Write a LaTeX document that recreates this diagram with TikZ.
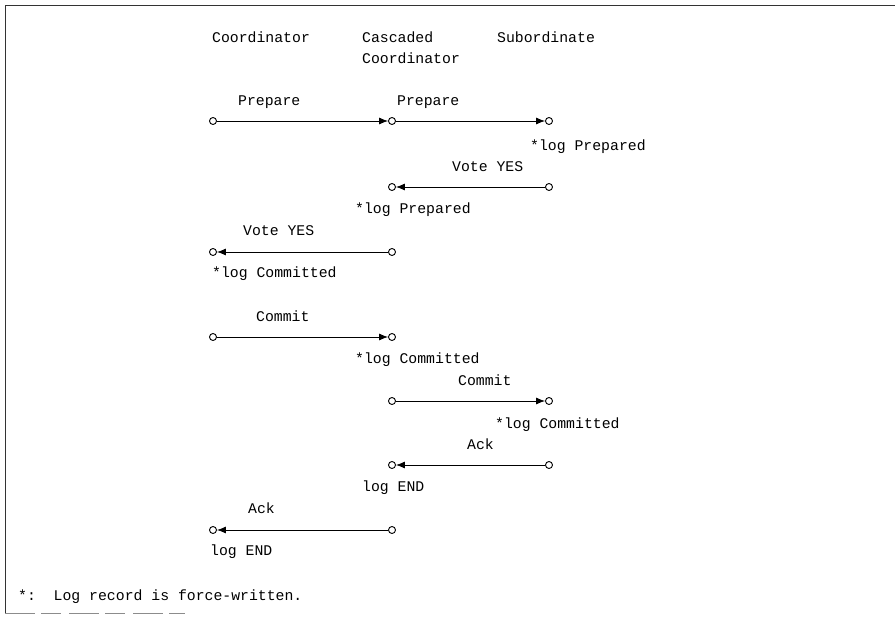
\documentclass[tikz,border=0pt]{standalone}
\usepackage{fontspec}
\setmonofont{Liberation Mono}
\usetikzlibrary{arrows.meta}
\begin{document}
\begin{tikzpicture}[x=1pt,y=-1pt,
  txt/.style={anchor=base west,inner sep=0pt,
    font=\ttfamily\fontsize{14.8}{16}\selectfont},
  endpt/.style={circle,draw,line width=0.9pt,minimum size=7pt,inner sep=0pt},
  msg/.style={line width=0.8pt,-{Latex[length=9pt,width=7pt]}},
  frame/.style={line width=1pt,black!80}]
\useasboundingbox (0,0) rectangle (895,621);
% frame
\draw[frame] (895,5) -- (5,5) -- (5,613);
\draw[frame,black!45,dash pattern=on 30pt off 6pt on 20pt off 8pt] (5,613) -- (185,613);

% column headings
\node[txt] (hA)  at (212,42) {Coordinator};
\node[txt] (hB1) at (362,42) {Cascaded};
\node[txt] (hB2) at (362,63) {Coordinator};
\node[txt] (hC)  at (497,42) {Subordinate};

% end points of the messages
\node[endpt] (p1a) at (213,121) {};
\node[endpt] (p1b) at (392,121) {};
\node[endpt] (p1c) at (549,121) {};
\node[endpt] (v1b) at (392,187) {};
\node[endpt] (v1c) at (549,187) {};
\node[endpt] (v2a) at (213,252) {};
\node[endpt] (v2b) at (392,252) {};
\node[endpt] (c1a) at (213,337) {};
\node[endpt] (c1b) at (392,337) {};
\node[endpt] (c2b) at (392,401) {};
\node[endpt] (c2c) at (549,401) {};
\node[endpt] (k1b) at (392,465) {};
\node[endpt] (k1c) at (549,465) {};
\node[endpt] (k2a) at (213,530) {};
\node[endpt] (k2b) at (392,530) {};

% messages
\draw[msg] (p1a) -- (p1b);
\draw[msg] (p1b) -- (p1c);
\draw[msg] (v1c) -- (v1b);
\draw[msg] (v2b) -- (v2a);
\draw[msg] (c1a) -- (c1b);
\draw[msg] (c2b) -- (c2c);
\draw[msg] (k1c) -- (k1b);
\draw[msg] (k2b) -- (k2a);

% message names and log actions
\node[txt] (lp1)  at (238,105) {Prepare};
\node[txt] (lp2)  at (397,105) {Prepare};
\node[txt] (lgp1) at (530,150) {*log Prepared};
\node[txt] (lv1)  at (452,171) {Vote YES};
\node[txt] (lgp2) at (355,213) {*log Prepared};
\node[txt] (lv2)  at (243,235) {Vote YES};
\node[txt] (lgc1) at (212,277) {*log Committed};
\node[txt] (lc1)  at (256,321) {Commit};
\node[txt] (lgc2) at (355,363) {*log Committed};
\node[txt] (lc2)  at (458,385) {Commit};
\node[txt] (lgc3) at (495,428) {*log Committed};
\node[txt] (lk1)  at (467,449) {Ack};
\node[txt] (lge1) at (362,491) {log END};
\node[txt] (lk2)  at (248,513) {Ack};
\node[txt] (lge2) at (210,555) {log END};

% footnote
\node[txt] (note) at (18,600) {*:~~Log record is force-written.};
\end{tikzpicture}
\end{document}
